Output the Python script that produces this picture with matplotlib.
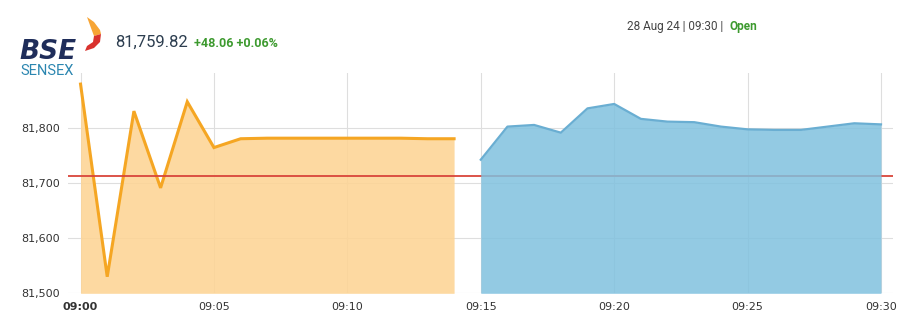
import matplotlib
matplotlib.use("Agg")
import matplotlib.pyplot as plt
from matplotlib.patches import Polygon

# Minute offsets from 09:00 and index levels
pre_open_minutes = list(range(0, 15))
pre_open_values = [81879, 81530, 81830, 81691, 81847, 81764, 81780, 81781,
                   81781, 81781, 81781, 81781, 81781, 81780, 81780]

session_minutes = list(range(15, 31))
session_values = [81742, 81802, 81805, 81791, 81835, 81843, 81816, 81811,
                  81810, 81802, 81797, 81796, 81796, 81802, 81808, 81806]

prev_close = 81711.76
x_ticks = [0, 5, 10, 15, 20, 25, 30]
x_tick_labels = ["09:00", "09:05", "09:10", "09:15", "09:20", "09:25", "09:30"]
y_ticks = [81500, 81600, 81700, 81800]

W, H = 920, 334
fig = plt.figure(figsize=(W / 100, H / 100), dpi=100)
ax = fig.add_axes([68 / W, (H - 293.3) / H, 825 / W, 220.8 / H])

# Pre-open (orange) and normal session (blue) areas
ax.fill_between(pre_open_minutes, pre_open_values, 81500,
                color="#fdd494", alpha=0.88, lw=0, zorder=2)
ax.plot(pre_open_minutes, pre_open_values, color="#f5a623", lw=2.2,
        solid_joinstyle="miter", zorder=3)

# Previous close line
ax.axhline(prev_close, color="#d9453a", lw=1.3, zorder=4)

ax.fill_between(session_minutes, session_values, 81500,
                color="#80c1df", alpha=0.85, lw=0, zorder=5)
ax.plot(session_minutes, session_values, color="#6aaed2", lw=1.6, zorder=6)

ax.set_xlim(-0.47, 30.45)
ax.set_ylim(81500, 81900)

ax.set_xticks(x_ticks)
ax.set_xticklabels(x_tick_labels)
ax.set_yticks(y_ticks)
ax.set_yticklabels([f"{v:,}" for v in y_ticks])
ax.get_xticklabels()[0].set_fontweight("bold")

ax.tick_params(axis="both", length=0, labelsize=8, colors="#333333")
ax.tick_params(axis="x", pad=6)
ax.tick_params(axis="y", pad=6)
ax.grid(True, color="#dedede", lw=0.8, zorder=1)
ax.set_axisbelow(True)
for s in ax.spines.values():
    s.set_visible(False)


def px(x, y):
    # pixel position from the top-left corner -> figure fraction
    return x / W, 1 - y / H


# Header: logo, price and change
fig.text(*px(19, 59), "BSE", fontsize=19, fontweight="bold",
         fontstyle="italic", color="#1f2d5a", ha="left", va="baseline")
fig.text(*px(20, 75), "SENSEX", family="Roboto", fontsize=10.5,
         color="#2b86b0", ha="left", va="baseline")

flame_top = [(87, 17), (94, 22), (100, 30), (101, 34), (94, 36), (91, 28)]
flame_bottom = [(101, 34), (100, 42), (94, 48), (85, 51), (87, 46), (93, 42), (94, 36)]
for pts, col in [(flame_top, "#f7a535"), (flame_bottom, "#d9322e")]:
    fig.patches.append(Polygon([px(x, y) for x, y in pts], closed=True,
                               transform=fig.transFigure, color=col, lw=0))

fig.text(*px(115, 47), "81,759.82", family="Roboto", fontsize=12,
         color="#2d3e50", ha="left", va="baseline")
fig.text(*px(194, 47), "+48.06 +0.06%", family="Roboto", fontsize=9,
         fontweight="bold", color="#3d9a2f", ha="left", va="baseline")

fig.text(*px(627, 30), "28 Aug 24 | 09:30 |", family="Roboto",
         fontsize=8.5, color="#444444", ha="left", va="baseline")
fig.text(*px(730, 30), "Open", family="Roboto", fontsize=8.5,
         fontweight="bold", color="#3d9a2f", ha="left", va="baseline")

fig.savefig("out.png", dpi=100, facecolor="white")
